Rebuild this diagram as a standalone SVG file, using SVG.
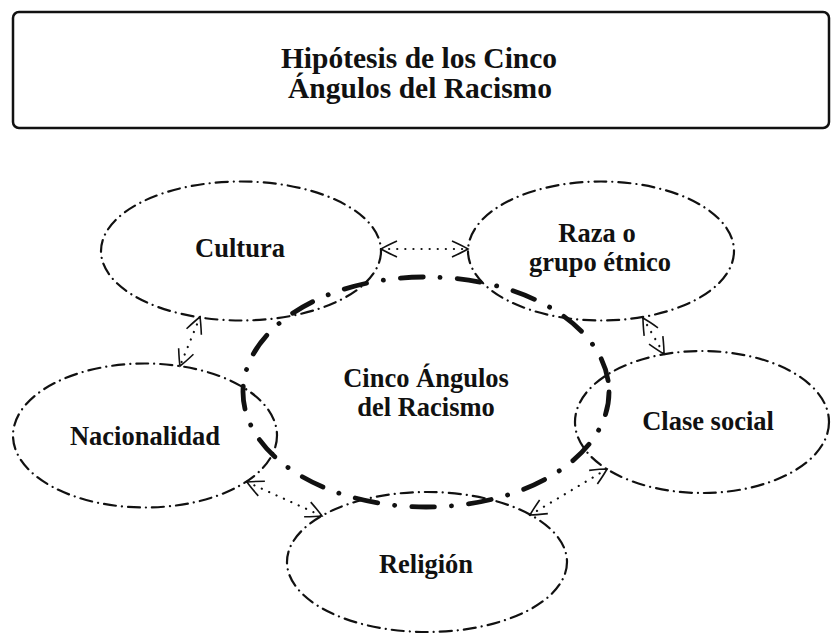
<svg xmlns="http://www.w3.org/2000/svg" width="831" height="634" viewBox="0 0 831 634">
<style>
  .lbl { font-family: "Liberation Serif", "Times New Roman", serif; font-weight: bold; fill: #111; text-anchor: middle; }
  .title { font-size: 29.5px; }
  .node-text { font-size: 26.5px; }
  .small { fill: none; stroke: #111; stroke-width: 2.2; stroke-dasharray: 12 6 0.1 6; stroke-linecap: round; }
  .core { fill: none; stroke: #111; stroke-width: 4.8; stroke-dasharray: 23 17 0.1 17; stroke-linecap: round; }
  .conn { fill: none; stroke: #111; stroke-width: 2.2; stroke-dasharray: 0.1 8; stroke-linecap: round; marker-start: url(#arrow); marker-end: url(#arrow); }
</style>
<defs>
  <marker id="arrow" viewBox="-18 -9 20 18" refX="0" refY="0" markerWidth="20" markerHeight="18" markerUnits="userSpaceOnUse" orient="auto-start-reverse" overflow="visible">
    <path d="M -16,-8 Q -5,-3 0,0 Q -5,3 -16,8" fill="none" stroke="#111" stroke-width="1.6" stroke-dasharray="none"/>
  </marker>
</defs>

<g id="title">
  <rect x="13" y="12" width="816" height="116" rx="6" ry="6" fill="#fff" stroke="#111" stroke-width="2.5"/>
  <text class="lbl title" x="419" y="68">Hipótesis de los Cinco</text>
  <text class="lbl title" x="420" y="98">Ángulos del Racismo</text>
</g>

<g id="connectors">
  <path class="conn" d="M381,249 L468,249"/>
  <path class="conn" d="M643,318 L664,354"/>
  <path class="conn" d="M200,317 L180,366"/>
  <path class="conn" d="M247,482 L322,516"/>
  <path class="conn" d="M530,515 L607,469"/>
</g>

<g id="cultura">
  <ellipse class="small" cx="241" cy="251" rx="140" ry="69.5"/>
  <text class="lbl node-text" x="240" y="257">Cultura</text>
</g>

<g id="raza">
  <ellipse class="small" cx="601" cy="251" rx="133" ry="69.5"/>
  <text class="lbl node-text" x="597" y="242">Raza o</text>
  <text class="lbl node-text" x="600" y="271">grupo étnico</text>
</g>

<g id="nacionalidad">
  <ellipse class="small" cx="145" cy="435.5" rx="132" ry="72"/>
  <text class="lbl node-text" x="145" y="445">Nacionalidad</text>
</g>

<g id="clase">
  <ellipse class="small" cx="702" cy="422" rx="127" ry="71"/>
  <text class="lbl node-text" x="708" y="430">Clase social</text>
</g>

<g id="religion">
  <ellipse class="small" cx="427" cy="562" rx="140" ry="70"/>
  <text class="lbl node-text" x="426" y="573">Religión</text>
</g>

<g id="centro">
  <ellipse class="core" cx="426" cy="392" rx="183" ry="115"/>
  <text class="lbl node-text" x="426" y="387">Cinco Ángulos</text>
  <text class="lbl node-text" x="426" y="416">del Racismo</text>
</g>
</svg>
